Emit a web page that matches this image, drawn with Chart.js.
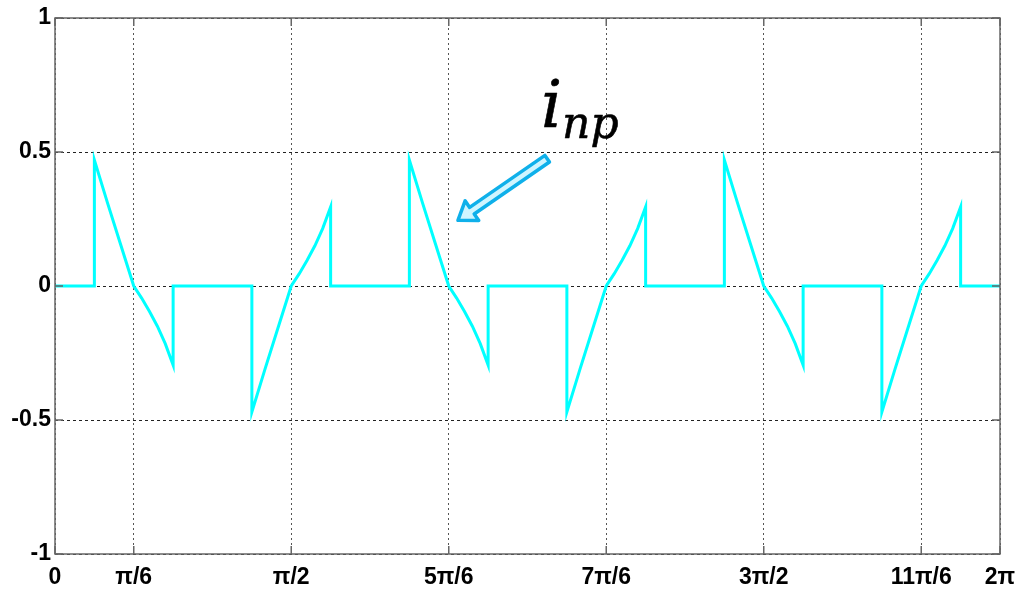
<!DOCTYPE html>
<html lang="en">
<head>
  <meta charset="UTF-8" />
  <title>i_np waveform</title>
  <script src="https://cdn.jsdelivr.net/npm/chart.js"></script>
  <style>
    html, body { margin: 0; padding: 0; background: #fff; }
    .wrap { position: relative; width: 1020px; height: 595px; }
  </style>
</head>
<body>
  <div class="wrap"><canvas id="chart" width="1020" height="595"></canvas></div>

  <script>
    // angle in degrees (0..360 = 0..2pi)
    const angleDeg = [
      0, 15, 15, 20, 25, 30, 33, 36, 39, 42, 45, 45,
      75, 75, 80, 85, 90, 93, 96, 99, 102, 105, 105,
      135, 135, 140, 145, 150, 153, 156, 159, 162, 165, 165,
      195, 195, 200, 205, 210, 213, 216, 219, 222, 225, 225,
      255, 255, 260, 265, 270, 273, 276, 279, 282, 285, 285,
      315, 315, 320, 325, 330, 333, 336, 339, 342, 345, 345,
      360
    ];
    const inp = [
      0, 0, 0.47, 0.31, 0.155, 0, -0.045, -0.095, -0.15, -0.215, -0.295, 0,
      0, -0.47, -0.31, -0.155, 0, 0.045, 0.095, 0.15, 0.215, 0.295, 0,
      0, 0.47, 0.31, 0.155, 0, -0.045, -0.095, -0.15, -0.215, -0.295, 0,
      0, -0.47, -0.31, -0.155, 0, 0.045, 0.095, 0.15, 0.215, 0.295, 0,
      0, 0.47, 0.31, 0.155, 0, -0.045, -0.095, -0.15, -0.215, -0.295, 0,
      0, -0.47, -0.31, -0.155, 0, 0.045, 0.095, 0.15, 0.215, 0.295, 0,
      0
    ];
    const xTickDeg = [0, 30, 90, 150, 210, 270, 330, 360];
    const xTickLabels = ['0', 'π/6', 'π/2', '5π/6', '7π/6', '3π/2', '11π/6', '2π'];
    const yTickValues = [-1, -0.5, 0, 0.5, 1];
    const yTickLabels = ['-1', '-0.5', '0', '0.5', '1'];

    const tickFont = { family: "'Liberation Sans', Arial, sans-serif", size: 23, weight: 'bold' };

    // axis box + inward tick marks
    const boxPlugin = {
      id: 'box',
      afterDraw(chart) {
        const { ctx, chartArea: a, scales } = chart;
        ctx.save();
        ctx.strokeStyle = '#666';
        ctx.lineWidth = 1.5;
        ctx.setLineDash([]);
        ctx.beginPath();
        xTickDeg.forEach(v => {
          const px = scales.x.getPixelForValue(v);
          ctx.moveTo(px, a.bottom); ctx.lineTo(px, a.bottom - 8);
          ctx.moveTo(px, a.top); ctx.lineTo(px, a.top + 8);
        });
        yTickValues.forEach(v => {
          const py = scales.y.getPixelForValue(v);
          ctx.moveTo(a.left, py); ctx.lineTo(a.left + 8, py);
          ctx.moveTo(a.right, py); ctx.lineTo(a.right - 8, py);
        });
        ctx.stroke();
        ctx.strokeRect(a.left, a.top, a.right - a.left, a.bottom - a.top);
        ctx.restore();
      }
    };

    // label "i_np" with a block arrow pointing at the curve
    const labelPlugin = {
      id: 'npLabel',
      afterDraw(chart) {
        const { ctx, scales } = chart;
        const tipX = scales.x.getPixelForValue(153.5), tipY = scales.y.getPixelForValue(0.245);
        const tailX = scales.x.getPixelForValue(187.5), tailY = scales.y.getPixelForValue(0.475);
        const dx = tipX - tailX, dy = tipY - tailY;
        const len = Math.hypot(dx, dy);
        const ux = dx / len, uy = dy / len, nx = -uy, ny = ux;
        const shaft = 4, head = 12, headLen = 17;
        const bx = tipX - ux * headLen, by = tipY - uy * headLen;
        const pts = [
          [tailX + nx * shaft, tailY + ny * shaft],
          [bx + nx * shaft, by + ny * shaft],
          [bx + nx * head, by + ny * head],
          [tipX, tipY],
          [bx - nx * head, by - ny * head],
          [bx - nx * shaft, by - ny * shaft],
          [tailX - nx * shaft, tailY - ny * shaft]
        ];
        ctx.save();
        ctx.beginPath();
        pts.forEach((p, i) => i ? ctx.lineTo(p[0], p[1]) : ctx.moveTo(p[0], p[1]));
        ctx.closePath();
        ctx.fillStyle = '#cff5ff';
        ctx.fill();
        ctx.lineJoin = 'round';
        ctx.lineWidth = 3.5;
        ctx.strokeStyle = '#0fb0ea';
        ctx.stroke();

        ctx.fillStyle = '#000';
        ctx.strokeStyle = '#000';
        ctx.lineWidth = 0.6;
        ctx.textBaseline = 'alphabetic';
        ctx.font = "italic 66px 'DejaVu Serif', serif";
        const ix = 541;
        ctx.fillText('i', ix, 127);
        ctx.strokeText('i', ix, 127);
        const iw = ctx.measureText('i').width;
        ctx.font = "italic 44px 'DejaVu Serif', serif";
        ctx.fillText('np', ix + iw, 138);
        ctx.strokeText('np', ix + iw, 138);
        ctx.restore();
      }
    };

    new Chart(document.getElementById('chart'), {
      type: 'scatter',
      data: {
        datasets: [{
          data: angleDeg.map((x, i) => ({ x: x, y: inp[i] })),
          showLine: true,
          borderColor: '#00ffff',
          borderWidth: 3,
          pointRadius: 0,
          tension: 0,
          fill: false
        }]
      },
      options: {
        responsive: false,
        animation: false,
        devicePixelRatio: 1,
        layout: { padding: { top: 18, right: 20, left: 0, bottom: 0 } },
        plugins: {
          legend: { display: false },
          tooltip: { enabled: false }
        },
        scales: {
          x: {
            type: 'linear',
            min: 0,
            max: 360,
            afterBuildTicks: s => { s.ticks = xTickDeg.map(v => ({ value: v })); },
            afterFit: s => { s.height = 41; s.paddingLeft = 0; s.paddingRight = 0; },
            ticks: {
              autoSkip: false,
              maxRotation: 0,
              padding: 10,
              color: '#000',
              font: tickFont,
              callback: (v, i) => xTickLabels[i]
            },
            grid: { color: '#555', lineWidth: 1, drawTicks: false },
            border: { display: false, dash: [2, 3] }
          },
          y: {
            min: -1,
            max: 1,
            afterBuildTicks: s => { s.ticks = yTickValues.map(v => ({ value: v })); },
            afterFit: s => { s.width = 55; s.paddingTop = 0; s.paddingBottom = 0; },
            ticks: {
              padding: 4,
              color: '#000',
              font: tickFont,
              callback: (v, i) => yTickLabels[i]
            },
            grid: { color: '#222', lineWidth: 1, drawTicks: false },
            border: { display: false, dash: [3, 3] }
          }
        }
      },
      plugins: [boxPlugin, labelPlugin]
    });
  </script>
</body>
</html>
